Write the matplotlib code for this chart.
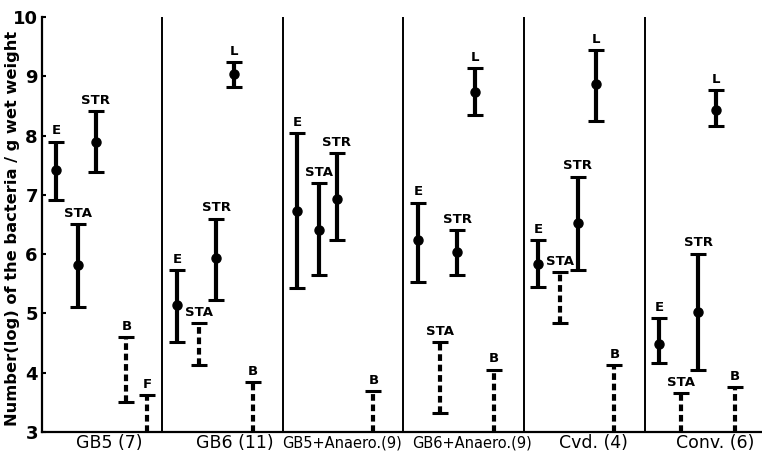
import matplotlib
matplotlib.use("Agg")
import matplotlib.pyplot as plt
import matplotlib.transforms as mtransforms

# ---------------- data ----------------
groups = ["GB5", "GB6", "GB5+Anaero.", "GB6+Anaero.", "Cvd.", "Conv."]
group_n = [7, 11, 9, 9, 4, 6]

# each entry: (bacteria, mean or None, low, high, dashed)
gb5 = [("E", 7.42, 6.91, 7.90, False), ("STA", 5.82, 5.11, 6.50, False),
       ("STR", 7.90, 7.39, 8.41, False), ("B", None, 3.51, 4.60, True),
       ("F", None, 3.00, 3.62, True)]
gb6 = [("E", 5.14, 4.52, 5.73, False), ("STA", None, 4.13, 4.83, True),
       ("STR", 5.93, 5.22, 6.60, False), ("L", 9.05, 8.83, 9.25, False),
       ("B", None, 3.00, 3.84, True)]
gb5_an = [("E", 6.72, 5.42, 8.04, False), ("STA", 6.41, 5.65, 7.20, False),
          ("STR", 6.93, 6.24, 7.70, False), ("B", None, 3.00, 3.68, True)]
gb6_an = [("E", 6.23, 5.53, 6.87, False), ("STA", None, 3.32, 4.52, True),
          ("STR", 6.04, 5.65, 6.41, False), ("L", 8.74, 8.35, 9.14, False),
          ("B", None, 3.00, 4.05, True)]
cvd = [("E", 5.84, 5.45, 6.24, False), ("STA", None, 4.83, 5.70, True),
       ("STR", 6.52, 5.73, 7.31, False), ("L", 8.87, 8.24, 9.45, False),
       ("B", None, 3.00, 4.13, True)]
conv = [("E", 4.48, 4.16, 4.92, False), ("STA", None, 3.00, 3.65, True),
        ("STR", 5.03, 4.04, 6.01, False), ("L", 8.43, 8.16, 8.77, False),
        ("B", None, 3.00, 3.76, True)]
group_data = [gb5, gb6, gb5_an, gb6_an, cvd, conv]

yticks = [3, 4, 5, 6, 7, 8, 9, 10]
ylabel = "Number(log) of the bacteria / g wet weight"

# ---------------- layout ----------------
offsets = {"E": 0.12, "STA": 0.30, "STR": 0.445, "L": 0.595, "B": 0.75, "F": 0.87}
label_x = [0.56, 1.60, 2.49, 3.57, 4.58, 5.59]
label_fs = [12.5, 12.5, 10.5, 10.5, 12.5, 12.5]
label_sep = [" ", " ", "", "", " ", " "]

fig = plt.figure(figsize=(7.62, 4.55), dpi=100)
ax = fig.add_axes([0.0551, 0.0512, 0.9449, 0.9108])
ax.set_xlim(0, 5.975)
ax.set_ylim(3, 10)

for s in ["top", "right"]:
    ax.spines[s].set_visible(False)
for s in ["left", "bottom"]:
    ax.spines[s].set_linewidth(1.6)

ax.set_yticks(yticks)
ax.set_yticklabels([str(t) for t in yticks], fontsize=13, fontweight="bold")
ax.tick_params(axis="y", direction="in", length=3, width=1.5, pad=3)
ax.set_xticks([])

for k in range(1, len(groups)):
    ax.axvline(k, color="black", lw=1.4)

lw = 3.0
for gi, data in enumerate(group_data):
    for name, mean, lo, hi, dashed in data:
        x = gi + offsets[name]
        if gi == 0 and name == "B":
            x = gi + 0.70
        if dashed:
            ax.plot([x, x], [lo, hi], color="black", lw=lw,
                    dashes=(1.6, 0.9), dash_capstyle="butt", clip_on=False)
        else:
            ax.plot([x, x], [lo, hi], color="black", lw=lw,
                    solid_capstyle="butt")
        ax.plot([x], [hi], marker="_", ms=11, mew=2.2, color="black")
        if lo > 3.0:
            ax.plot([x], [lo], marker="_", ms=11, mew=2.2, color="black")
        if mean is not None:
            ax.plot([x], [mean], marker="o", ms=6.5, color="black")
        ax.annotate(name, (x, hi), xytext=(0, 3), textcoords="offset points",
                    ha="center", va="bottom", fontsize=9.5, fontweight="bold")

trans = mtransforms.blended_transform_factory(ax.transData, ax.transAxes)
for gi, (g, n) in enumerate(zip(groups, group_n)):
    ax.text(label_x[gi], -0.028, f"{g}{label_sep[gi]}({n})", transform=trans,
            ha="center", va="center", fontsize=label_fs[gi])

fig.text(0.017, 0.497, ylabel, rotation=90, ha="center", va="center",
         fontsize=11.7, fontweight="bold")

fig.savefig("out.png", dpi=100)
